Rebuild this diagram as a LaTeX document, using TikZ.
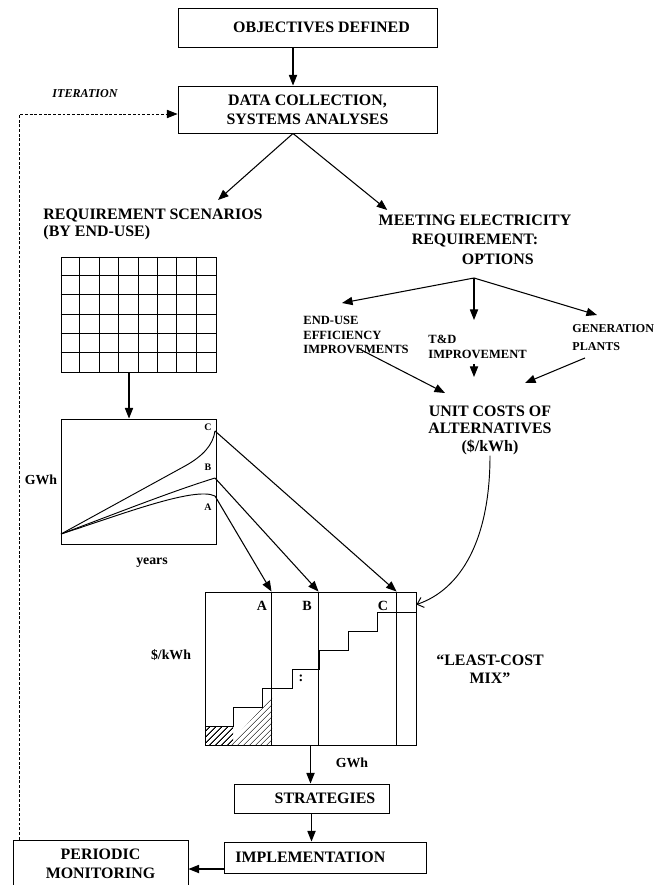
\documentclass[tikz,border=0pt]{standalone}
\usepackage{fontspec}
\setmainfont{Liberation Serif}
\usetikzlibrary{arrows.meta, calc, patterns.meta}
\newcommand{\pxu}{0.3mm}
\tikzset{
  every picture/.style={line width=0.8pt},
  box/.style={draw, inner sep=0pt, align=center, font=\bfseries\fontsize{13.6}{16}\selectfont},
  heading/.style={inner sep=0pt, align=left, font=\bfseries\fontsize{13.6}{14.5}\selectfont},
  optlbl/.style={inner sep=0pt, align=left, font=\bfseries\fontsize{10.7}{12.3}\selectfont},
  iterlbl/.style={inner sep=0pt, font=\bfseries\itshape\fontsize{10.3}{12}\selectfont},
  axislbl/.style={inner sep=0pt, font=\bfseries\fontsize{11.8}{13}\selectfont},
  chartlbl/.style={inner sep=0pt, font=\bfseries\fontsize{8.5}{10}\selectfont},
  costlbl/.style={inner sep=0pt, font=\bfseries\fontsize{12}{14}\selectfont},
  chart/.style={draw, inner sep=0pt},
  arrow/.style={-{Triangle[length=9pt, width=7pt]}, line width=0.9pt},
  costarrow/.style={-{Straight Barb[length=5pt, width=9pt]}, line width=0.8pt},
  feedback/.style={-{Triangle[length=9pt, width=7pt]}, dash pattern=on 2.5pt off 1.5pt, line width=0.7pt},
}
\begin{document}
\begin{tikzpicture}[x=0.3mm, y=-0.3mm]
  \useasboundingbox (0,0) rectangle (657,885);
  % planning cycle boxes
  \node[box, minimum width=259*\pxu, minimum height=39*\pxu] (obj) at (307.5,27.5) {\hspace*{24pt}OBJECTIVES DEFINED};
  \node[box, minimum width=259*\pxu, minimum height=47*\pxu] (data) at (307.5,109.5) {DATA COLLECTION,\\SYSTEMS ANALYSES};
  \node[box, minimum width=155*\pxu, minimum height=29*\pxu] (strat) at (311.5,798.5) {\hspace*{23pt}STRATEGIES};
  \node[box, minimum width=202*\pxu, minimum height=31*\pxu] (impl) at (325,857.5) {IMPLEMENTATION\hspace*{25pt}};
  \node[box, minimum width=175*\pxu, minimum height=48*\pxu] (mon) at (100.5,864) {PERIODIC\\MONITORING};
  \node[iterlbl] (iter) at (85,94) {ITERATION};
  \draw[arrow] ([xshift=-14.5*\pxu]obj.south) -- ([xshift=-14.5*\pxu]data.north);

  % two branches
  \node[heading, anchor=north west] (req) at (43,208) {REQUIREMENT SCENARIOS\\(BY END-USE)};
  \node[heading, anchor=north, align=center, font=\bfseries\fontsize{13.6}{17}\selectfont] (meet) at (475,214)
    {MEETING ELECTRICITY\\REQUIREMENT:\\\hspace*{39pt}OPTIONS};
  \draw[arrow] ([xshift=-14.5*\pxu]data.south) -- ($(req.north west)+(175,-8)$);
  \draw[arrow] ([xshift=-14.5*\pxu]data.south) -- ($(meet.north west)+(9,-4)$);

  % supply options
  \coordinate (fork) at (474,278);
  \node[optlbl, anchor=north west] (eff) at (303,316) {END-USE\\EFFICIENCY\\IMPROVEMENTS};
  \node[optlbl, anchor=north west] (td) at (428,335) {T\&D\\IMPROVEMENT};
  \node[optlbl, anchor=north west, font=\bfseries\fontsize{10.3}{12.3}\selectfont] (gen) at (572,324) {GENERATION\\[3pt]PLANTS};
  \draw[arrow] (fork) -- ($(eff.north west)+(39,-13)$);
  \draw[arrow] (fork) -- ($(td.north west)+(46,-15)$);
  \draw[arrow] (fork) -- ($(gen.north west)+(25,-9)$);
  \node[heading, anchor=north, align=center, font=\bfseries\fontsize{13.6}{15.3}\selectfont] (unit) at (490,405)
    {UNIT COSTS OF\\ALTERNATIVES\\(\$/kWh)};
  \draw[arrow] ($(eff.south west)+(55,-6)$) -- ($(unit.north)+(-45,-12)$);
  \draw[arrow] ($(td.south west)+(46,5)$) -- ($(unit.north)+(-16,-28)$);
  \draw[arrow] ($(gen.south west)+(13,7)$) -- ($(unit.north)+(35,-22)$);

  % end-use table
  \node[chart, minimum width=155*\pxu, minimum height=115*\pxu] (scen) at (138.5,314.5) {};
  \foreach \i in {1,...,7}
    \draw ($(scen.north west)+(\i*19.375,0)$) -- ($(scen.south west)+(\i*19.375,0)$);
  \foreach \j in {1,...,5}
    \draw ($(scen.north west)+(0,\j*19.17)$) -- ($(scen.north east)+(0,\j*19.17)$);

  % demand scenarios
  \node[chart, minimum width=155*\pxu, minimum height=125*\pxu] (gwh) at (138.5,481.5) {};
  \draw[arrow] ([xshift=-9.5*\pxu]scen.south) -- ([xshift=-9.5*\pxu]gwh.north);
  \draw (61,534) -- (185,466) .. controls (203,456) and (213,445) .. (215,431) coordinate (sC);
  \draw (61,534) .. controls (120,512) and (170,492) .. (215,478) coordinate (sB);
  \draw (61,534) .. controls (120,515) and (195,486) .. (215,496) coordinate (sA);
  \node[chartlbl] (lC) at (208,427) {C};
  \node[chartlbl] (lB) at (208,467) {B};
  \node[chartlbl] (lA) at (208,507) {A};
  \node[axislbl] (gwhy) at (41,480) {GWh};
  \node[axislbl] (gwhx) at (152,563) {years};

  % least-cost supply curve
  \fill[pattern={Lines[angle=45, distance=4pt, line width=1.1pt]}] (205,726) rectangle (233,745);
  \fill[pattern={Lines[angle=45, distance=4pt, line width=0.4pt]}] (228,745) -- (272,745) -- (272,697) -- cycle;
  \node[chart, minimum width=211*\pxu, minimum height=153*\pxu] (cost) at (310.5,668.5) {};
  \coordinate (topA) at ($(cost.north west)+(67,0)$);
  \coordinate (topB) at ($(cost.north west)+(114,0)$);
  \coordinate (topC) at ($(cost.north west)+(192,0)$);
  \foreach \c in {topA,topB,topC}
    \draw (\c) -- (\c |- cost.south);
  \draw (205,726) -| (233,707) -| (262,688) -| (292,669) -| (319,650) -| (348,631) -| (377,612) -- (416,612);
  \node[costlbl] (cA) at (262,606) {A};
  \node[costlbl] (cB) at (307,606) {B};
  \node[costlbl] (cC) at (383,606) {C};
  \node[costlbl] (dots) at (301,678) {:};
  \node[axislbl] (costy) at (171,655) {\$/kWh};
  \node[axislbl] (costx) at (352,763) {GWh};
  \node[heading, align=center, font=\bfseries\fontsize{13.6}{15.3}\selectfont] (mix) at (490,669) {“LEAST-COST\\MIX”};
  \draw[arrow] (sA) -- (topA);
  \draw[arrow] (sB) -- (topB);
  \draw[arrow] (sC) -- (topC);
  \draw[costarrow] (unit.south) .. controls +(0,85) and +(44,-15) .. ($(cost.north east)+(0,13)$);

  % strategies and monitoring
  \draw[arrow] (cost.south) -- (cost.south |- strat.north);
  \draw[arrow] (strat.south) -- (strat.south |- impl.north);
  \draw[arrow] ([yshift=-11.5*\pxu]impl.west) -- ([yshift=-11.5*\pxu]impl.west -| mon.east);
  \draw[feedback] ([xshift=7*\pxu]mon.north west) |- ([yshift=-4.5*\pxu]data.west);
\end{tikzpicture}
\end{document}
